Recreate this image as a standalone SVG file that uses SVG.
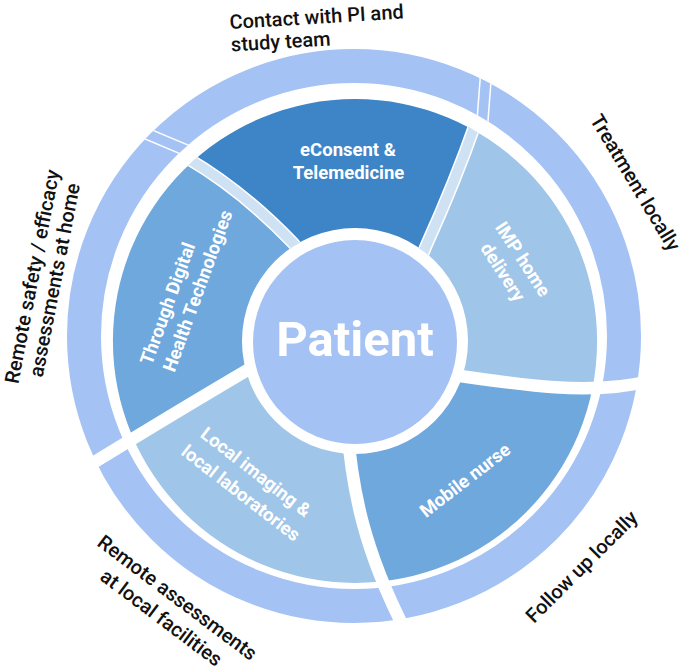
<svg xmlns="http://www.w3.org/2000/svg" width="685" height="671" viewBox="0 0 685 671">
  <style>
    .outer-label { font-family: Roboto, "Liberation Sans", Arial, sans-serif; font-size: 20px; font-weight: 500; fill: #111111; }
    .seg-label { font-family: Roboto, "Liberation Sans", Arial, sans-serif; font-size: 18.5px; font-weight: 700; fill: #ffffff; text-anchor: middle; }
    .gap { fill: none; stroke: #ffffff; stroke-width: 12.5; }
    .band-edge { fill: none; stroke: #ffffff; stroke-width: 13; }
    .band { fill: none; stroke: #cfe2f3; stroke-width: 10; }
    .ring-edge { fill: none; stroke: #ffffff; stroke-width: 12.5; }
    .ring-fill { fill: none; stroke: #a4c2f4; stroke-width: 9.5; }
  </style>
  <defs>
    <clipPath id="midClip">
      <path clip-rule="evenodd" d="M 355 99 A 242 242 0 1 1 355 583 A 242 242 0 1 1 355 99 Z M 355 228 A 113 113 0 1 0 355 454 A 113 113 0 1 0 355 228 Z"/>
    </clipPath>
    <clipPath id="outerClip">
      <path clip-rule="evenodd" d="M 354 49 A 287 287 0 1 1 354 623 A 287 287 0 1 1 354 49 Z M 354 83 A 253 253 0 1 0 354 589 A 253 253 0 1 0 354 83 Z"/>
    </clipPath>
  </defs>

  <g id="outer-ring">
    <circle cx="354" cy="336" r="270" fill="none" stroke="#a4c2f4" stroke-width="34"/>
    <g clip-path="url(#outerClip)">
      <path class="ring-edge" d="M 195 154 L 120 122.4"/>
      <path class="ring-fill" d="M 195 154 L 120 122.4"/>
      <path class="ring-edge" d="M 487.5 55 L 481 140"/>
      <path class="ring-fill" d="M 487.5 55 L 481 140"/>
    </g>
  </g>

  <g id="segments" clip-path="url(#midClip)">
    <g id="seg-econsent"><path fill="#3d85c6" d="M 315 270 L 293 243 Q 242 190 187 158 L 150 136 L 120 118 L 100 -60 L 500 -60 L 490 20 L 486 60 L 476 122 Q 455 182 426 246 L 406 295 Z"/></g>
    <g id="seg-imp"><path fill="#9fc5e8" d="M 406 295 L 426 246 Q 455 182 476 122 L 486 60 L 490 20 L 500 -60 L 760 -60 L 760 381 L 650 381 C 590 396 520 385 440 373 Z"/></g>
    <g id="seg-nurse"><path fill="#6fa8dc" d="M 440 373 C 520 385 590 396 650 381 L 760 381 L 760 760 L 405 760 L 405 630 C 364 550 352 490 347 425 Z"/></g>
    <g id="seg-local"><path fill="#9fc5e8" d="M 347 425 C 352 490 364 550 405 630 L 405 760 L -60 760 L -60 471 L 80 471 C 150 428 220 386 268 358 Z"/></g>
    <g id="seg-digital"><path fill="#6fa8dc" d="M 268 358 C 220 386 150 428 80 471 L -60 471 L -60 -60 L 100 -60 L 120 118 L 150 136 L 187 158 Q 242 190 293 243 L 315 270 Z"/></g>
    <path class="band-edge" d="M 315 270 L 293 243 Q 242 190 187 158 L 170 148"/>
    <path class="band" d="M 315 270 L 293 243 Q 242 190 187 158 L 170 148"/>
    <path class="band-edge" d="M 406 295 L 426 246 Q 455 182 476 122 L 480 100"/>
    <path class="band" d="M 406 295 L 426 246 Q 455 182 476 122 L 480 100"/>
  </g>

  <g id="connectors">
    <path class="gap" d="M 440 373 C 520 385 590 396 650 381"/>
    <path class="gap" d="M 347 425 C 352 490 364 550 405 630"/>
    <path class="gap" d="M 268 358 C 220 386 150 428 80 471"/>
  </g>

  <g id="patient">
    <circle cx="355" cy="342" r="102" fill="#a4c2f4"/>
    <text x="355" y="356" font-family="Roboto, 'Liberation Sans', Arial, sans-serif" font-size="49" font-weight="700" fill="#ffffff" text-anchor="middle">Patient</text>
  </g>

  <g id="label-econsent">
    <text class="seg-label" x="348" y="156">eConsent &amp;</text>
    <text class="seg-label" x="348.5" y="179">Telemedicine</text>
  </g>
  <g id="label-imp">
    <text class="seg-label" transform="translate(523 259) rotate(57)" x="0" y="6.5">IMP home</text>
    <text class="seg-label" transform="translate(503 272) rotate(57)" x="0" y="6.5">delivery</text>
  </g>
  <g id="label-nurse">
    <text class="seg-label" transform="translate(465 480) rotate(-37.6)" x="0" y="6.5">Mobile nurse</text>
  </g>
  <g id="label-local">
    <text class="seg-label" transform="translate(256 472) rotate(37.7)" x="0" y="6.5">Local imaging &amp;</text>
    <text class="seg-label" transform="translate(241 493) rotate(37.7)" x="0" y="6.5">local laboratories</text>
  </g>
  <g id="label-digital">
    <text class="seg-label" transform="translate(167.5 303.3) rotate(-70)" x="0" y="6.5">Through Digital</text>
    <text class="seg-label" transform="translate(197.5 290.8) rotate(-70)" x="0" y="6.5">Health Technologies</text>
  </g>

  <g id="label-contact">
    <g transform="translate(230 29) rotate(-3.5)">
      <text class="outer-label" x="0" y="0">Contact with PI and</text>
      <text class="outer-label" x="0" y="22.5">study team</text>
    </g>
  </g>
  <g id="label-treatment">
    <text class="outer-label" text-anchor="middle" transform="translate(635.5 182.5) rotate(59)" x="0" y="7">Treatment locally</text>
  </g>
  <g id="label-followup">
    <text class="outer-label" text-anchor="middle" transform="translate(581.5 566.5) rotate(-45)" x="0" y="7">Follow up locally</text>
  </g>
  <g id="label-remote-local">
    <text class="outer-label" text-anchor="middle" transform="translate(177.5 597.5) rotate(37)" x="0" y="7">Remote assessments</text>
    <text class="outer-label" text-anchor="middle" transform="translate(161.5 617.5) rotate(37)" x="0" y="7">at local facilities</text>
  </g>
  <g id="label-remote-home">
    <text class="outer-label" text-anchor="middle" transform="translate(32 276.5) rotate(-79)" x="0" y="7">Remote safety / efficacy</text>
    <text class="outer-label" text-anchor="middle" transform="translate(54.5 280) rotate(-79)" x="0" y="7">assessments at home</text>
  </g>
</svg>
